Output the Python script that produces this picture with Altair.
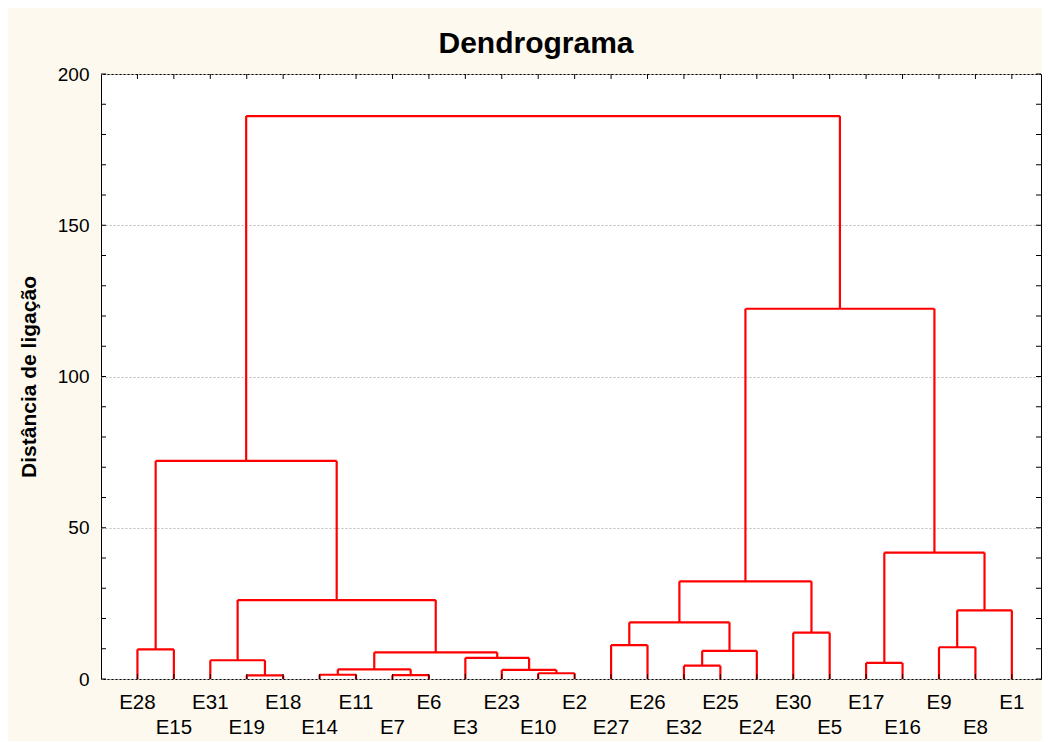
import altair as alt
import pandas as pd

# ---------------- data ----------------
leaves = ["E28", "E15", "E31", "E19", "E18", "E14", "E11", "E7", "E6", "E3", "E23", "E10", "E2",
          "E27", "E26", "E32", "E25", "E24", "E30", "E5", "E17", "E16", "E9", "E8", "E1"]

# merges: M0, M1, ... in order
merge_left = ["E19", "E14", "E7", "E10", "M1", "E23", "E31", "E3", "M4", "E28", "M6", "M9",
              "E27", "E32", "M13", "M12", "E30", "M15", "E17", "E9", "M19", "M18", "M17", "M11"]
merge_right = ["E18", "E11", "E6", "E2", "M2", "M3", "M0", "M5", "M7", "E15", "M8", "M10",
               "E26", "E25", "E24", "M14", "E5", "M16", "E16", "E8", "E1", "M20", "M21", "M22"]
merge_height = [1.2, 1.4, 1.3, 1.9, 3.2, 3.0, 6.2, 7.0, 8.8, 9.8, 26.1, 72.1,
                11.2, 4.4, 9.3, 18.7, 15.3, 32.3, 5.3, 10.5, 22.7, 41.8, 122.4, 186.1]

y_labels = [0, 50, 100, 150, 200]
y_minor = list(range(0, 201, 10))
title_text = ["Dendrograma"]

# ---------------- build tree segments ----------------
pos = {name: i + 1 for i, name in enumerate(leaves)}
hgt = {name: 0.0 for name in leaves}
seg = []
for k, (a, b, h) in enumerate(zip(merge_left, merge_right, merge_height)):
    xa, xb = pos[a], pos[b]
    ha, hb = hgt[a], hgt[b]
    seg.append({"x": xa, "x2": xa, "y": ha, "y2": h})
    seg.append({"x": xb, "x2": xb, "y": hb, "y2": h})
    seg.append({"x": xa, "x2": xb, "y": h, "y2": h})
    pos["M%d" % k] = (xa + xb) / 2
    hgt["M%d" % k] = h
seg_df = pd.DataFrame(seg)

leaf_df = pd.DataFrame({"leaf": leaves,
                        "x": [i + 1 for i in range(len(leaves))],
                        "row": [i % 2 for i in range(len(leaves))]})
ytick_df = pd.DataFrame({"y": y_minor})
title_df = pd.DataFrame({"t": title_text})

W, H = 940, 605
FONT = "Liberation Sans"

xs = alt.Scale(domain=[0, 25.8], nice=False, zero=False)
ys = alt.Scale(domain=[0, 200], nice=False, zero=True)

yaxis = alt.Axis(
    values=y_labels, grid=True, gridDash=[2, 2], gridColor="#bcbcbc", gridWidth=1,
    ticks=False, tickSize=0, domain=False, labelFontSize=19, labelFont=FONT,
    labelColor="black", labelPadding=12,
    title="Distância de ligação", titleFont=FONT, titleFontSize=21, titleFontWeight="bold",
    titleColor="black", titleAngle=270, titleAlign="center", titleBaseline="middle",
    titleX=-72, titleY=H / 2)

lines = alt.Chart(seg_df).mark_rule(color="#ff0000", strokeWidth=2.2).encode(
    x=alt.X("x:Q", scale=xs, axis=None),
    x2="x2:Q",
    y=alt.Y("y:Q", scale=ys, axis=yaxis),
    y2="y2:Q",
)

left_ticks = alt.Chart(ytick_df).mark_rule(color="black", strokeWidth=1).encode(
    y=alt.Y("y:Q", scale=ys, axis=yaxis), x=alt.value(0), x2=alt.value(5))
right_ticks = alt.Chart(ytick_df).mark_rule(color="black", strokeWidth=1).encode(
    y=alt.Y("y:Q", scale=ys, axis=yaxis), x=alt.value(W - 5), x2=alt.value(W))
bottom_ticks = alt.Chart(leaf_df).mark_rule(color="black", strokeWidth=1).encode(
    x=alt.X("x:Q", scale=xs, axis=None), y=alt.value(H - 5), y2=alt.value(H))
top_ticks = alt.Chart(leaf_df).mark_rule(color="black", strokeWidth=1).encode(
    x=alt.X("x:Q", scale=xs, axis=None), y=alt.value(0), y2=alt.value(5))

lab0 = alt.Chart(leaf_df).transform_filter("datum.row == 0").mark_text(
    font=FONT, fontSize=20.5, color="black", baseline="middle", align="center").encode(
    x=alt.X("x:Q", scale=xs, axis=None), y=alt.value(H + 24), text="leaf:N")
lab1 = alt.Chart(leaf_df).transform_filter("datum.row == 1").mark_text(
    font=FONT, fontSize=20.5, color="black", baseline="middle", align="center").encode(
    x=alt.X("x:Q", scale=xs, axis=None), y=alt.value(H + 49), text="leaf:N")

title = alt.Chart(title_df).mark_text(
    font=FONT, fontSize=30, fontWeight="bold", color="black",
    baseline="alphabetic", align="center").encode(
    x=alt.value(W / 2 - 35), y=alt.value(-21), text="t:N")

chart = alt.layer(lines, left_ticks, right_ticks, bottom_ticks, top_ticks,
                  lab0, lab1, title).properties(
    width=W, height=H,
    autosize="none",
    padding={"left": 93, "top": 66, "right": 1, "bottom": 62},
    background="#fdf9ee",
).configure_view(fill="white", stroke="black", strokeWidth=1)

chart.save("out.html", embed_options={"renderer": "svg", "actions": False})
